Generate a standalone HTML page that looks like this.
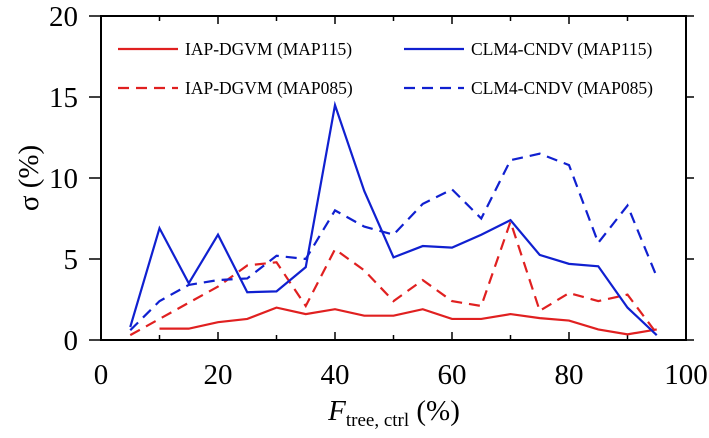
<!DOCTYPE html>
<html><head><meta charset="utf-8"><style>
body{margin:0;background:#fff}
svg{display:block;font-family:"Liberation Serif",serif}
</style></head><body>
<svg id="chart" width="709" height="438"></svg>
<script>
const xs=[5,10,15,20,25,30,35,40,45,50,55,60,65,70,75,80,85,90,95];
const clmMap115=[0.8,6.9,3.5,6.5,2.95,3.0,4.5,14.5,9.2,5.1,5.8,5.7,6.5,7.4,5.25,4.7,4.55,2.0,0.3];
const clmMap085=[0.6,2.4,3.4,3.7,3.8,5.2,5.0,8.0,7.0,6.5,8.4,9.3,7.5,11.1,11.5,10.8,6.0,8.3,3.9];
const iapXs=[10,15,20,25,30,35,40,45,50,55,60,65,70,75,80,85,90,95];
const iapMap115=[0.7,0.7,1.1,1.3,2.0,1.6,1.9,1.5,1.5,1.9,1.3,1.3,1.6,1.35,1.2,0.65,0.35,0.65];
const iapMap085=[0.3,1.3,2.3,3.3,4.6,4.8,2.1,5.6,4.3,2.4,3.7,2.4,2.1,7.3,1.8,2.9,2.4,2.8,0.4];
const xTicks=[0,20,40,60,80,100];
const yTicks=[0,5,10,15,20];
const L=101,R=686,T=16,B=340;
const X=v=>L+(v/100)*(R-L), Y=v=>B-(v/20)*(B-T);
const svg=document.getElementById('chart');const NS='http://www.w3.org/2000/svg';
function mk(t,a,p){const e=document.createElementNS(NS,t);for(const k in a)e.setAttribute(k,a[k]);(p||svg).appendChild(e);return e;}
const frame=mk('rect',{x:L,y:T,width:R-L,height:B-T,fill:'none',stroke:'#000','stroke-width':2});


for(let v=0;v<=100;v+=10){const big=v%20===0,len=big?8:5;
 mk('line',{x1:X(v),x2:X(v),y1:B,y2:B-len,stroke:'#000','stroke-width':1.5});
 mk('line',{x1:X(v),x2:X(v),y1:T,y2:T+len,stroke:'#000','stroke-width':1.5});}
xTicks.forEach(v=>{const t=mk('text',{x:X(v),y:B+44,'font-size':29,'text-anchor':'middle'});t.textContent=v;
 
 });
yTicks.forEach(v=>{mk('line',{x1:L-12,x2:L,y1:Y(v),y2:Y(v),stroke:'#000','stroke-width':1.5});
 mk('line',{x1:R,x2:R+8,y1:Y(v),y2:Y(v),stroke:'#000','stroke-width':1.5});
 const t=mk('text',{x:78,y:Y(v)+10,'font-size':29,'text-anchor':'end'});t.textContent=v;
 
 });
function series(xa,ya,color,dash,name){const d=xa.map((x,i)=>(i?'L':'M')+X(x)+','+Y(ya[i])).join(' ');
 const p=mk('path',{d,fill:'none',stroke:color,'stroke-width':2.2,'stroke-dasharray':dash||'none'});
 
 }
series(xs,iapMap085,'#e02020','11,7','line-iap-map085');
series(xs,clmMap085,'#1020d0','11,7','line-clm-map085');
series(iapXs,iapMap115,'#e02020',null,'line-iap-map115');
series(xs,clmMap115,'#1020d0',null,'line-clm-map115');
const leg=[[118,49,'#e02020',null,'IAP-DGVM (MAP115)'],[404,49,'#1020d0',null,'CLM4-CNDV (MAP115)'],
[118,88,'#e02020','11,7','IAP-DGVM (MAP085)'],[404,88,'#1020d0','11,7','CLM4-CNDV (MAP085)']];
leg.forEach(l=>{const g=mk('g',{});
 
 
 mk('line',{x1:l[0],x2:l[0]+60,y1:l[1],y2:l[1],stroke:l[2],'stroke-width':2.2,'stroke-dasharray':l[3]||'none'},g);
 const t=mk('text',{x:l[0]+67,y:l[1]+6,'font-size':17.5},g);t.textContent=l[4];});
const yt=mk('text',{x:0,y:0,'font-size':29,'text-anchor':'middle',transform:'translate(38,178) rotate(-90)'});
yt.textContent='σ (%)';


const xt=mk('text',{x:394,y:420,'font-size':29,'text-anchor':'middle'});
xt.innerHTML='<tspan font-style="italic">F</tspan><tspan font-size="19" dy="6">tree, ctrl</tspan><tspan dy="-6"> (%)</tspan>';


</script>
</body></html>
